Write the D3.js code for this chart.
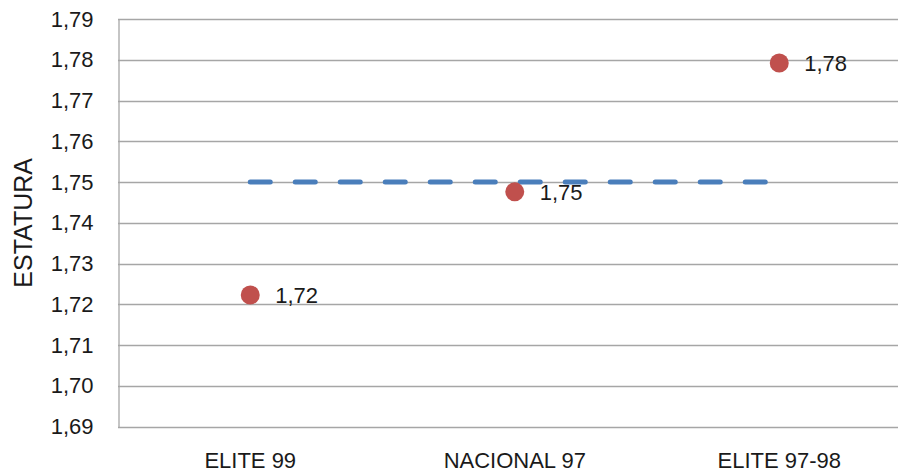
<!DOCTYPE html>
<html>
<head>
<meta charset="utf-8">
<script src="https://cdn.jsdelivr.net/npm/d3@7"></script>
<style>
  html, body { margin: 0; padding: 0; background: #ffffff; }
  svg { display: block; }
  text { font-family: "Liberation Sans", Arial, sans-serif; fill: #1a1a1a; }
</style>
</head>
<body>
<svg id="chart" width="898" height="476"></svg>
<script>
const categories = ["ELITE 99", "NACIONAL 97", "ELITE 97-98"];
const heights = [1.7223, 1.7476, 1.7792];
const averageHeight = 1.75;
const yTicks = [1.69, 1.70, 1.71, 1.72, 1.73, 1.74, 1.75, 1.76, 1.77, 1.78, 1.79];
const yTitle = "ESTATURA";

const W = 898, H = 476;
const plot = { left: 118, right: 911.5, top: 19, bottom: 426.7 };

const locale = d3.formatLocale({ decimal: ",", thousands: ".", grouping: [3], currency: ["", ""] });
const fmt = locale.format(".2f");

const svg = d3.select("#chart");

const x = d3.scaleBand().domain(categories).range([plot.left, plot.right]).padding(0);
const y = d3.scaleLinear().domain([1.69, 1.79]).range([plot.bottom, plot.top]);
const cx = d => x(d) + x.bandwidth() / 2;

// gridlines
svg.append("g")
  .selectAll("line")
  .data(yTicks)
  .join("line")
  .attr("x1", plot.left).attr("x2", W)
  .attr("y1", d => Math.round(y(d)) + 0.5).attr("y2", d => Math.round(y(d)) + 0.5)
  .attr("stroke", "#a6a6a6").attr("stroke-width", 1.3);

// y axis
const yAxis = d3.axisLeft(y).tickValues(yTicks).tickFormat(fmt).tickSize(0).tickPadding(25);
const gy = svg.append("g").attr("transform", `translate(${plot.left + 0.5},0)`).call(yAxis);
gy.select(".domain").attr("stroke", "#a6a6a6").attr("stroke-width", 1.3);
gy.selectAll("text").style("font-size", "22px").attr("fill", "#1a1a1a")
  .style("font-family", "'Liberation Sans', Arial, sans-serif");

// x axis labels
const xAxis = d3.axisBottom(x).tickSize(0).tickPadding(26);
const gx = svg.append("g").attr("transform", `translate(0,${plot.bottom})`).call(xAxis);
gx.select(".domain").remove();
gx.selectAll("text").style("font-size", "22px").attr("fill", "#1a1a1a")
  .style("font-family", "'Liberation Sans', Arial, sans-serif");

// y title
svg.append("text")
  .attr("transform", `translate(32,${(plot.top + plot.bottom) / 2}) rotate(-90)`)
  .attr("text-anchor", "middle")
  .style("font-size", "25px")
  .text(yTitle);

// average dashed line
const line = d3.line().x(d => cx(d)).y(() => y(averageHeight));
svg.append("path")
  .attr("d", line([categories[0], categories[categories.length - 1]]))
  .attr("fill", "none")
  .attr("stroke", "#4a7ebb")
  .attr("stroke-width", 5)
  .attr("stroke-linecap", "round")
  .attr("stroke-dasharray", "20,25");

// points
svg.append("g").selectAll("circle")
  .data(categories)
  .join("circle")
  .attr("cx", d => cx(d))
  .attr("cy", (d, i) => y(heights[i]))
  .attr("r", 9.5)
  .attr("fill", "#c0504d");

// data labels
svg.append("g").selectAll("text")
  .data(categories)
  .join("text")
  .attr("x", d => cx(d) + 25)
  .attr("y", (d, i) => y(heights[i]))
  .attr("dy", "0.36em")
  .style("font-size", "22px")
  .text((d, i) => fmt(heights[i]));
</script>
</body>
</html>
